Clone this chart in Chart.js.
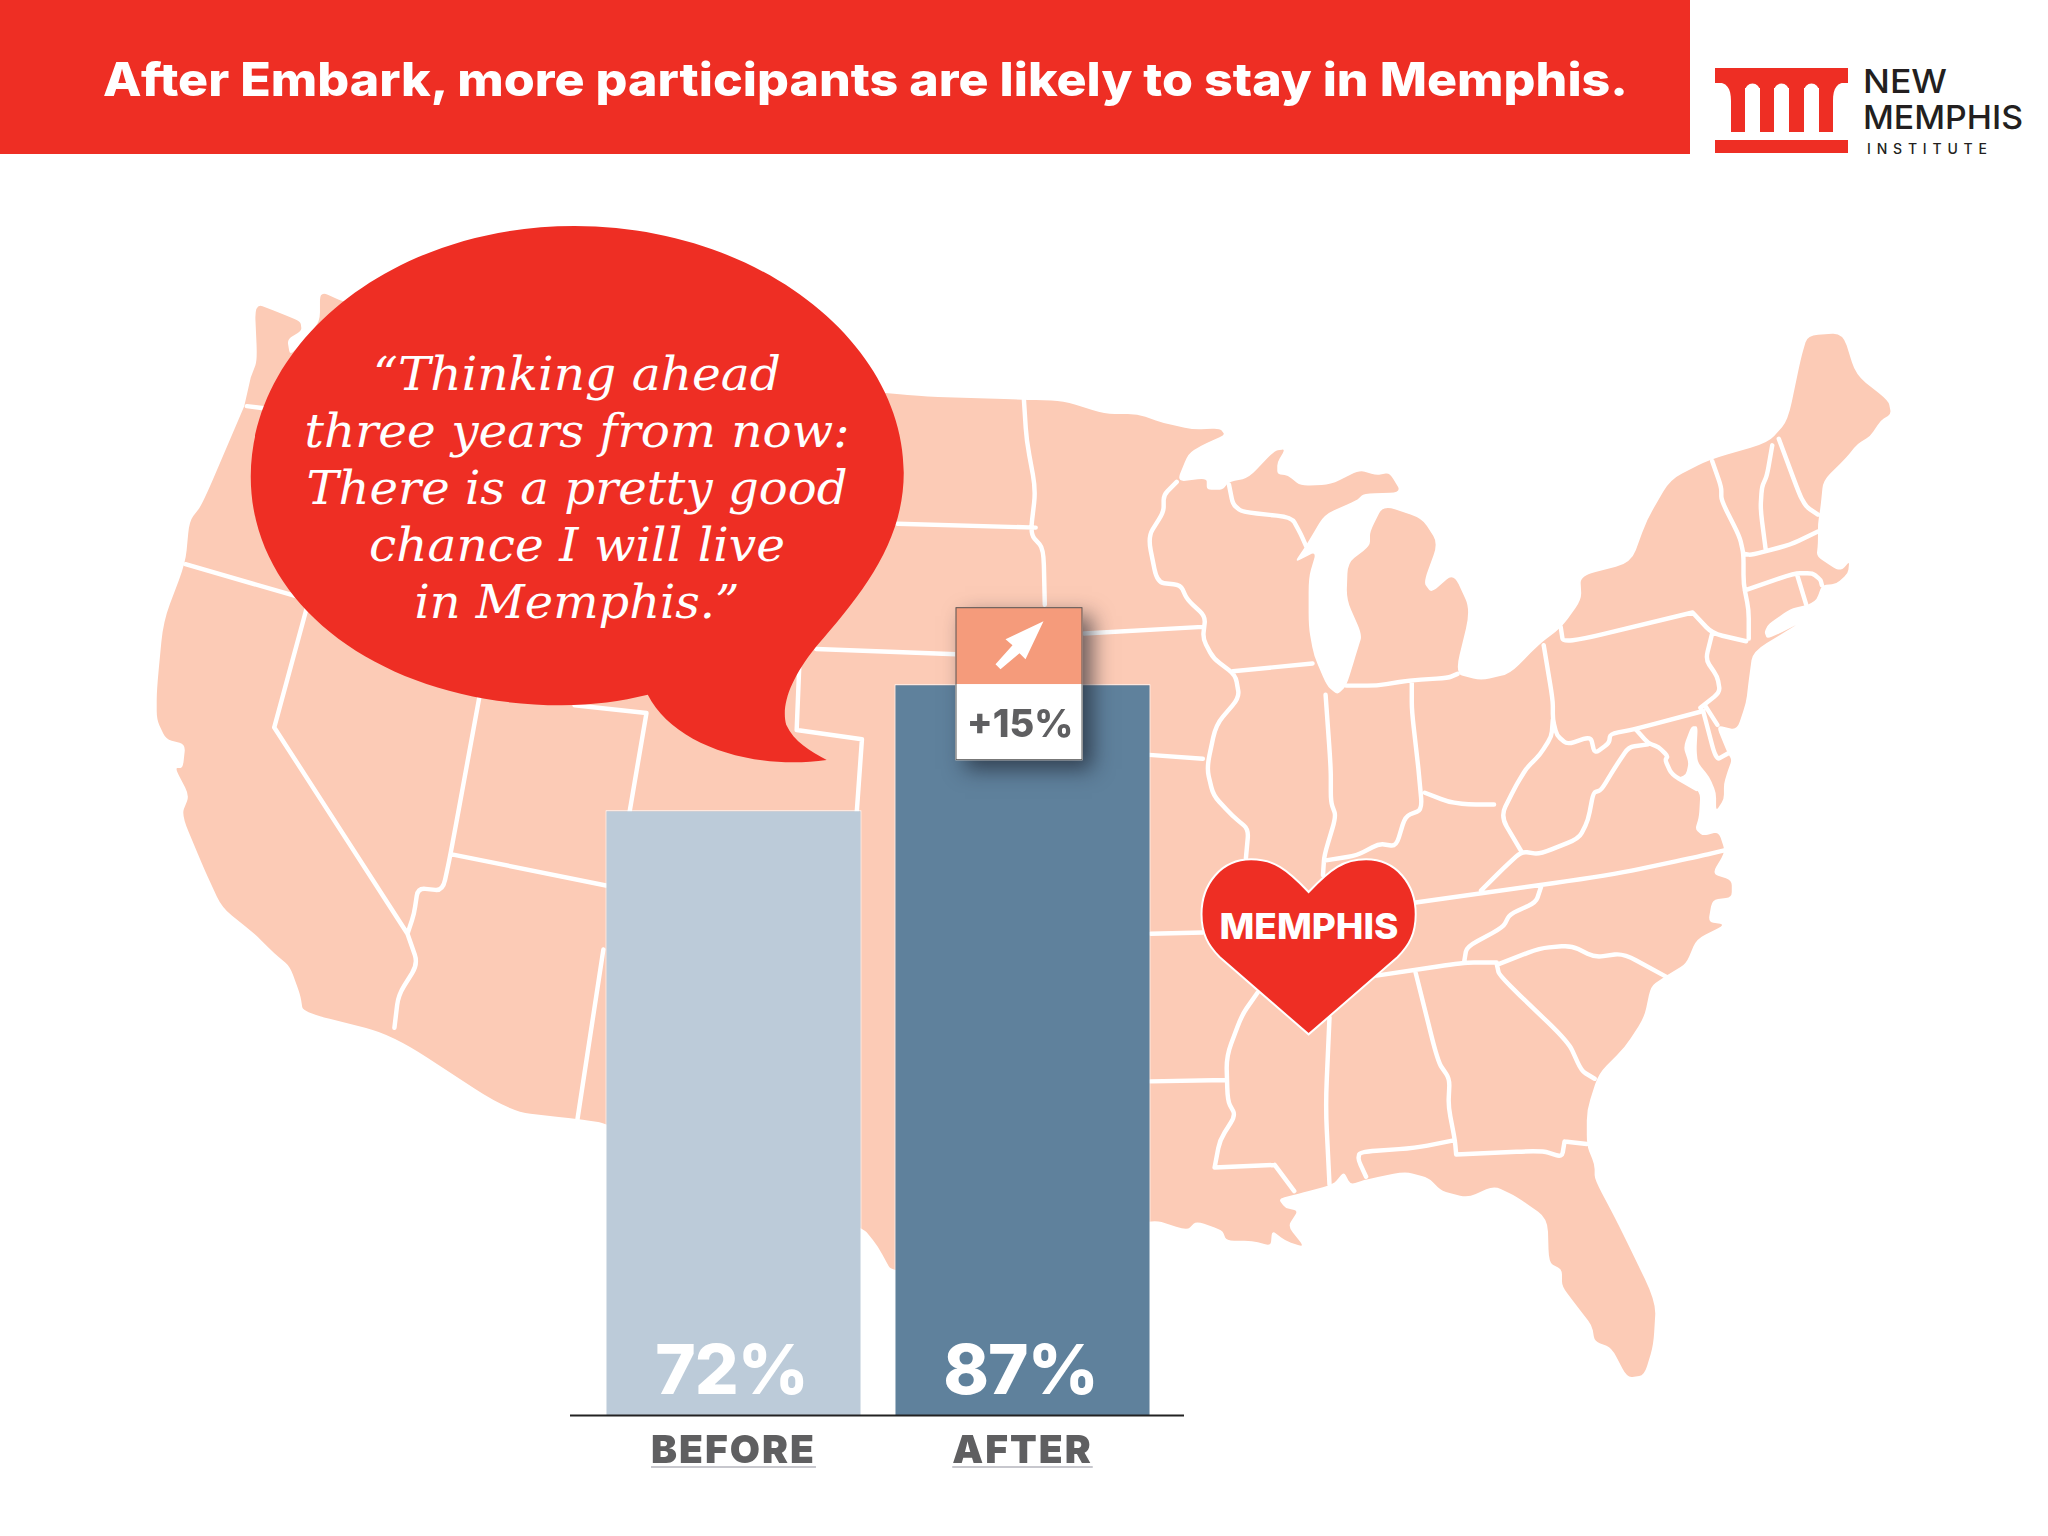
<!DOCTYPE html>
<html>
<head>
<meta charset="utf-8">
<title>After Embark</title>
<script src="https://cdn.jsdelivr.net/npm/chart.js@4"></script>
<style>
  html, body { margin: 0; padding: 0; background: #fff; }
  #page { position: relative; width: 2048px; height: 1536px; overflow: hidden; }
  #backdrop, #myChart { position: absolute; left: 0; top: 0; }
</style>
</head>
<body>
<div id="page">
  <svg id="backdrop" width="2048" height="1536" viewBox="0 0 2048 1536" xmlns="http://www.w3.org/2000/svg">
    <g id="traced" transform="scale(1.306)">
      <path id="usa" fill="#FCCBB6"/>
      <path id="states" fill="none" stroke="#fff" stroke-width="3.4" stroke-linecap="round" stroke-linejoin="round"/>
      <path fill="#EE2E24" d="M440,173 C580,173 692,262 692,362 C692,415 660,455 625,495 C605,520 598,540 602,555 C608,568 620,575 633,582 C575,590 515,570 496,532 C475,537 455,540 430,540 C295,540 192,465 192,365 C192,262 300,173 440,173 Z"/>
      <path fill="#EE2E24" stroke="#fff" stroke-width="1.5" d="M1002,683 C985,665 975,658 958,658 C935,658 920,677 920,700 C920,715 925,724 934,733 L1002,792 L1070,733 C1079,724 1084,715 1084,700 C1084,677 1069,658 1046,658 C1029,658 1019,665 1002,683 Z"/>
    </g>

    <rect x="0" y="0" width="1690" height="154" fill="#EE2E24"/>
    <text x="103" y="96" textLength="1525" lengthAdjust="spacingAndGlyphs" fill="#fff" font-family="Inter" font-weight="800" font-size="46">After Embark, more participants are likely to stay in Memphis.</text>

    <g fill="#EE2E24">
      <rect x="1715" y="68" width="133" height="15"/>
      <rect x="1731" y="80" width="14" height="52"/>
      <rect x="1760" y="80" width="14" height="52"/>
      <rect x="1789" y="80" width="15" height="52"/>
      <rect x="1819" y="80" width="14" height="52"/>
      <rect x="1745" y="80" width="15" height="8"/>
      <rect x="1774" y="80" width="15" height="8"/>
      <rect x="1804" y="80" width="15" height="8"/>
      <path d="M1715,82 C1727,82 1731,88 1731,101 L1740,101 L1740,82 Z"/>
      <path d="M1848,82 C1837,82 1833,88 1833,101 L1824,101 L1824,82 Z"/>
      <rect x="1715" y="140" width="133" height="13"/>
    </g>
    <g fill="#fff">
      <circle cx="1752.5" cy="91" r="7.5"/>
      <circle cx="1781.5" cy="91" r="7.5"/>
      <circle cx="1811.5" cy="91" r="7.5"/>
    </g>
    <g fill="#231F20" font-family="Inter" font-weight="500">
      <text x="1863" y="93" font-size="33" textLength="84" lengthAdjust="spacingAndGlyphs">NEW</text>
      <text x="1863" y="129" font-size="33" textLength="160" lengthAdjust="spacingAndGlyphs">MEMPHIS</text>
      <text x="1867" y="154" font-size="14" textLength="120">INSTITUTE</text>
    </g>

    <g fill="#fff" font-family="DejaVu Serif" font-style="italic" font-size="46" text-anchor="middle">
      <text x="577" y="390" textLength="408" lengthAdjust="spacingAndGlyphs">“Thinking ahead</text>
      <text x="577" y="447" textLength="545" lengthAdjust="spacingAndGlyphs">three years from now:</text>
      <text x="577" y="504" textLength="541" lengthAdjust="spacingAndGlyphs">There is a pretty good</text>
      <text x="577" y="561" textLength="416" lengthAdjust="spacingAndGlyphs">chance I will live</text>
      <text x="577" y="618" textLength="325" lengthAdjust="spacingAndGlyphs">in Memphis.”</text>
    </g>
    <text x="1309" y="939" text-anchor="middle" textLength="179" lengthAdjust="spacingAndGlyphs" fill="#fff" font-family="Inter" font-weight="800" font-size="36">MEMPHIS</text>
  </svg>
  <canvas id="myChart" width="2048" height="1536"></canvas>
</div>

<script>
  // chart data
  var categories = ['BEFORE', 'AFTER'];
  var values = [72, 87];
  var valueLabels = ['72%', '87%'];
  var changeLabel = '+15%';

  // map backdrop
  var usaOutline = '192,289 197,276 195,232 215,240 230,246 231,253 220,260 222,272 232,262 245,246 245,223 265,232 400,270 690,303 784,306 814,307 846,317 871,317 891,324 914,329 934,328 938,333 924,339 910,347 901,369 924,366 924,375 936,375 941,369 956,366 976,345 984,344 978,354 978,363 986,364 996,372 1019,371 1041,360 1054,364 1064,362 1073,377 1044,378 1039,383 1014,394 1001,416 991,431 1008,422 1002,442 1002,480 1006,502 1016,525 1024,532 1031,525 1039,499 1043,486 1031,459 1032,431 1049,418 1049,407 1059,387 1089,397 1101,416 1090,446 1096,454 1113,439 1126,467 1114,516 1134,521 1156,516 1179,493 1196,480 1211,459 1210,441 1249,431 1261,398 1279,367 1309,352 1354,339 1369,322 1379,274 1384,257 1411,255 1421,287 1446,307 1448,317 1440,322 1432,334 1422,340 1414,350 1396,368 1394,388 1392,401 1392,416 1391,426 1406,436 1411,436 1416,430 1415,439 1406,447 1395,448 1391,459 1385,463 1371,466 1354,478 1351,484 1353,489 1365,484 1378,477 1342,499 1339,521 1337,538 1330,559 1314,555 1322,575 1326,582 1323,590 1320,600 1320,612 1314,621 1314,607 1309,595 1300,584 1299,574 1300,556 1295,556 1289,572 1293,584 1291,593 1284,596 1302,606 1301,625 1298,635 1304,640 1316,637 1321,652 1311,669 1326,674 1326,687 1311,689 1308,706 1321,708 1299,719 1291,738 1276,747 1264,755 1259,779 1244,802 1224,822 1215,850 1215,877 1221,892 1221,903 1239,937 1268,997 1266,1030 1259,1053 1246,1055 1234,1032 1221,1027 1219,1015 1209,1002 1196,985 1196,972 1186,967 1185,933 1161,916 1144,908 1124,917 1104,912 1094,902 1076,897 1046,903 1034,907 1029,897 1021,907 994,914 979,918 984,925 994,927 986,939 999,955 984,950 974,942 973,954 959,950 939,950 936,942 916,935 909,942 881,933 800,960 684,976 672,954 660,939 464,860 444,857 390,851 300,792 232,775 230,762 222,740 210,730 195,715 170,695 157,667 139,624 145,609 134,588 140,588 142,570 127,566 120,551 120,529 125,476 142,431 145,399 155,386 187,311';

  var stateLines = [
    '189,311 205,313',
    '142,432 232,458',
    '235,465 210,557',
    '210,557 312,715',
    '312,715 320,738 305,762 302,787',
    '367,534 345,654 339,682 320,680 317,700 312,715',
    '345,654 464,678',
    '462,727 442,858',
    '440,540 495,546',
    '495,546 482,622',
    '612,510 610,559',
    '610,559 660,566',
    '660,566 656,622',
    '625,497 732,501',
    '830,485 921,480',
    '687,401 793,404',
    '784,306 786,337 793,375 789,409 799,420 800,463',
    '901,369 891,379 891,392 879,411 886,446 904,448 909,459 923,472 921,489 929,504 946,517 949,534 931,555 924,588 929,609 944,625 956,635 954,657',
    '944,514 1005,508',
    '880,578 921,581',
    '881,715 921,714',
    '881,828 939,827',
    '963,760 951,777 939,809 940,843 946,854 934,873 930,894',
    '930,894 976,892',
    '976,892 991,912',
    '1018,779 1015,847 1018,907',
    '1054,747 1121,737 1146,737',
    '1084,745 1101,813 1110,826 1109,847 1114,873 1115,884',
    '1115,884 1181,881 1196,886 1198,874',
    '1198,874 1215,876',
    '1114,873 1084,879 1041,882 1040,888 1046,901',
    '1146,738 1148,747 1201,798 1211,820 1221,826',
    '1148,738 1179,726 1203,724 1221,733 1243,730 1276,748',
    '1121,737 1123,725 1151,710 1156,700 1176,691 1180,679',
    '1084,691 1234,670 1304,655 1321,651',
    '1134,682 1151,665 1165,652 1179,654 1209,642 1216,628 1220,607 1226,605 1237,587 1247,572 1262,570',
    '1165,652 1149,625 1161,601 1169,588 1179,578 1188,564 1189,551',
    '1144,616 1124,616 1109,614 1091,607',
    '1086,588 1089,620 1076,625 1069,648 1056,646 1039,655 1014,659',
    '1015,532 1019,588 1019,614 1023,625 1014,655 1013,670',
    '1081,523 1081,544 1086,588',
    '1031,525 1054,525 1079,521 1109,519 1116,516',
    '1182,494 1189,536 1189,551 1192,563 1200,570 1218,564 1221,577 1232,569 1233,562 1253,558 1302,545',
    '1195,480 1197,493 1296,469',
    '1296,469 1311,485 1337,491',
    '1311,485 1306,505 1315,518 1317,530 1302,542',
    '1253,559 1262,569 1270,572 1277,579 1275,582 1280,593 1299,604',
    '1304,544 1314,582 1323,577',
    '1306,541 1315,555',
    '941,371 944,386 951,392 989,396 996,409 1000,418',
    '1311,353 1318,373 1318,383 1332,411 1335,424 1335,447 1339,467 1339,489',
    '1357,341 1353,364 1349,373 1348,390 1352,421',
    '1362,336 1378,379 1383,388 1392,394',
    '1335,424 1341,425 1371,417 1392,407',
    '1336,452 1374,439 1388,439 1394,444 1395,448',
    '1376,440 1383,463'
  ];

  function toPoints(text) {
    return text.split(' ').map(function (p) { return p.split(',').map(Number); });
  }

  // round off the traced corners a little
  function tracedPath(text, closed) {
    var pts = toPoints(text);
    var cut = 0.3;
    var n = pts.length;
    var d = 'M' + pts[0][0] + ',' + pts[0][1];
    for (var i = 1; i < n - 1; i++) {
      var p = pts[i], a = pts[i - 1], b = pts[i + 1];
      d += ' L' + (p[0] + (a[0] - p[0]) * cut) + ',' + (p[1] + (a[1] - p[1]) * cut);
      d += ' Q' + p[0] + ',' + p[1] + ' ' + (p[0] + (b[0] - p[0]) * cut) + ',' + (p[1] + (b[1] - p[1]) * cut);
    }
    d += ' L' + pts[n - 1][0] + ',' + pts[n - 1][1];
    return closed ? d + ' Z' : d;
  }

  document.getElementById('usa').setAttribute('d', tracedPath(usaOutline, true));
  document.getElementById('states').setAttribute('d', stateLines.map(function (l) { return tracedPath(l, false); }).join(' '));

  var labelFont = 'Inter';

  // baseline, value labels, tick underlines and the change callout
  var annotations = {
    id: 'annotations',
    beforeDraw: function (chart) {
      chart.ctx.letterSpacing = '2px';
    },
    afterDatasetsDraw: function (chart) {
      var ctx = chart.ctx;
      var area = chart.chartArea;
      var bars = chart.getDatasetMeta(0).data;

      ctx.save();
      ctx.strokeStyle = '#222';
      ctx.lineWidth = 2;
      ctx.beginPath();
      ctx.moveTo(area.left - 19, area.bottom + 0.5);
      ctx.lineTo(area.right + 17, area.bottom + 0.5);
      ctx.stroke();

      ctx.font = '900 39px ' + labelFont;
      ctx.strokeStyle = '#b4b4bc';
      ctx.lineWidth = 1.5;
      bars.forEach(function (bar, i) {
        var w = ctx.measureText(categories[i]).width / 2;
        ctx.beginPath();
        ctx.moveTo(bar.x - w, area.bottom + 52);
        ctx.lineTo(bar.x + w, area.bottom + 52);
        ctx.stroke();
      });

      ctx.fillStyle = '#fff';
      ctx.textAlign = 'center';
      ctx.textBaseline = 'alphabetic';
      ctx.letterSpacing = '-1px';
      ctx.font = '800 69px ' + labelFont;
      bars.forEach(function (bar, i) {
        ctx.fillText(valueLabels[i], bar.x - 2, area.bottom - 21);
      });
      ctx.letterSpacing = '0px';

      // callout sits on the top edge of the last bar
      var top = bars[1].y;
      var boxX = bars[1].x - 67;
      var boxW = 127;
      ctx.save();
      ctx.shadowColor = 'rgba(25,28,40,0.65)';
      ctx.shadowBlur = 20;
      ctx.shadowOffsetX = 9;
      ctx.shadowOffsetY = 9;
      ctx.fillStyle = '#fff';
      ctx.fillRect(boxX, top - 77, boxW, 153);
      ctx.restore();
      ctx.fillStyle = '#F59B7B';
      ctx.fillRect(boxX, top - 77, boxW, 77);
      ctx.fillStyle = '#fff';
      ctx.fillRect(boxX, top, boxW, 76);
      ctx.strokeStyle = '#555';
      ctx.lineWidth = 1;
      ctx.strokeRect(boxX + 0.5, top - 76.5, boxW - 1, 152);

      var ax = boxX;
      var ay = top - 77;
      ctx.fillStyle = '#fff';
      ctx.beginPath();
      ctx.moveTo(ax + 88, ay + 14);
      ctx.lineTo(ax + 50, ay + 32);
      ctx.lineTo(ax + 57, ay + 38);
      ctx.lineTo(ax + 40, ay + 57);
      ctx.lineTo(ax + 45, ay + 62);
      ctx.lineTo(ax + 64, ay + 46);
      ctx.lineTo(ax + 70, ay + 52);
      ctx.closePath();
      ctx.fill();

      ctx.fillStyle = '#5F5F61';
      ctx.font = '800 38px ' + labelFont;
      ctx.fillText(changeLabel, boxX + boxW / 2 + 1, top + 53);
      ctx.restore();
    }
  };

  var myChart = new Chart(document.getElementById('myChart').getContext('2d'), {
    type: 'bar',
    data: {
      labels: categories,
      datasets: [{
        data: values,
        backgroundColor: ['#BCCBD9', '#5F819C'],
        borderColor: '#fff',
        borderWidth: 1,
        barPercentage: 0.886,
        categoryPercentage: 1
      }]
    },
    options: {
      responsive: false,
      animation: false,
      devicePixelRatio: 1,
      layout: {
        padding: { left: 589, right: 881, top: 575, bottom: 0 }
      },
      plugins: {
        legend: { display: false },
        tooltip: { enabled: false }
      },
      scales: {
        x: {
          grid: { display: false, drawTicks: false },
          border: { display: false },
          afterFit: function (scale) { scale.height = 121; },
          ticks: {
            color: '#5F5F61',
            padding: 13,
            maxRotation: 0,
            font: { family: labelFont, size: 39, weight: '900' }
          }
        },
        y: {
          display: false,
          min: 0,
          max: 100
        }
      }
    },
    plugins: [annotations]
  });
</script>
</body>
</html>
